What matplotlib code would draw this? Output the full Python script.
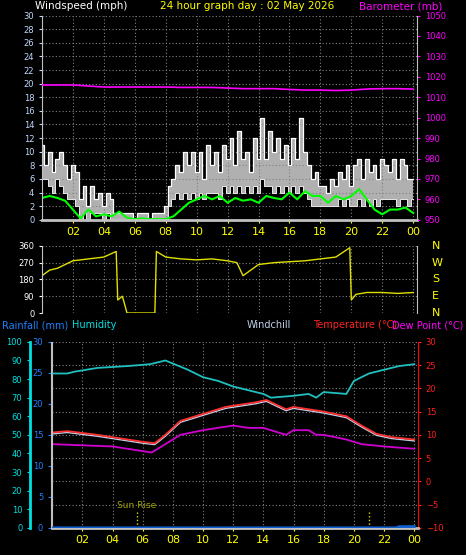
import numpy as np
import matplotlib
matplotlib.use("Agg")
import matplotlib.pyplot as plt

gust_hi = [11,8,10,7,9,10,8,6,8,
           7,3,5,2,5,3,4,2, 4,3,1,1,1,1,1,0, 1,1,1,0,1,1,1,2,
           5,6,8,7,10,8,10,7, 10,6,11,8,10,7,11,9, 12,8,13,9,10,7,12,9,
           15,9,13,10,12,9,11,8, 12,9,15,10,8,6,7,5, 5,4,6,5,7,6,8,5,
           8,9,6,9,7,8,6,9, 8,7,9,6,9,8,6,6]
gust_lo = [6,6,5,4,6,5,4,3,3,
           2,0,1,0,1,1,1,0, 1,0,0,0,0,0,0,0, 0,0,0,0,0,0,0,0,
           2,3,4,3,4,3,4,3, 4,3,4,4,4,3,5,4, 5,4,5,4,5,4,5,4,
           6,5,5,4,5,4,5,4, 5,4,5,4,3,2,2,2, 2,2,2,2,3,2,3,2,
           2,3,2,3,2,3,2,3, 3,3,3,2,3,3,2,3]
wind_avg = [3.2,3.5,3.2,2.8,1.5,0.2,1.5,0.5,0.8,0.5,1.2,0.3,0.1,0.2,0.1,0.1,0.1,0.5,1.5,2.5,3.0,3.5,3.0,3.5,2.5,3.2,2.8,3.0,2.5,3.5,3.2,3.0,4.0,3.0,4.2,3.5,3.5,2.5,3.5,3.0,3.5,4.5,3.0,1.5,0.8,1.5,1.5,1.8,1.0]
baro = [1016,1016,1016,1015.5,1015,1015,1015,1015,1015,1014.8,1014.8,1014.8,1014.5,1014.2,1014.2,1014.2,1013.8,1013.5,1013.5,1013.3,1013.5,1014,1014.2,1014.2,1014]
dir_h = [0,0.5,1,1.5,2,3,4,4.8,4.9,5.2,5.5,7.3,7.4,8,9,10,11,12,12.6,13,14,15,16,17,18,19,19.9,20,20.3,21,22,23,24]
dir_v = [200,230,240,260,280,290,300,330,70,90,0,0,330,300,290,285,290,280,270,200,260,270,275,280,290,300,350,70,100,110,110,105,110]
hum_h = [0,1,1.5,3,5,6.5,7.5,9,10,11,12,13,14,14.5,16,17,17.5,18,19.5,20,21,22,23,24]
hum_v = [83,83,84,86,87,88,90,85,81,79,76,74,72,70,71,72,70,73,72,79,83,85,87,88]
tmp_h = [0,1,3,4,6,6.8,7.5,8.5,9.5,10.5,11.5,12.5,13.5,14.2,15.5,16,17,18,19.5,20.5,21.5,22.5,24]
tmp_v = [10.5,10.8,10,9.5,8.5,8.2,10,13,14,15,16,16.5,17,17.5,15.5,16,15.5,15,14,12,10.2,9.5,9]
dew_h = [0,4,6,6.6,7.5,8.5,10,11,12,13,14,15.5,16,17,17.5,18,19.5,20.5,22,24]
dew_v = [8,7.5,6.5,6.2,8,10,11,11.5,12,11.5,11.5,10,11,11,10,10,9,8,7.5,7]
rain_h = [0,22.8,23,24]
rain_v = [0,0,0.2,0.2]
hours = list(range(2, 25, 2))
hour_labels = ["02","04","06","08","10","12","14","16","18","20","22","00"]

fig = plt.figure(figsize=(4.66, 5.55), dpi=100, facecolor="black")
def style(ax):
    ax.set_facecolor("black")
    for s in ax.spines.values():
        s.set_visible(False)
    ax.grid(True, color="#808080", linestyle=(0, (1, 2)), linewidth=0.8)
    ax.tick_params(labelsize=7, length=2)

# top panel
ax1 = fig.add_axes([0.090, 0.604, 0.805, 0.368])
style(ax1)
th = np.linspace(0, 24, len(gust_hi))
ax1.fill_between(th, gust_lo, gust_hi, color="#b0b0b0", step="mid", lw=0)
ax1.step(th, gust_hi, where="mid", color="white", lw=0.9)
ax1.step(th, gust_lo, where="mid", color="#e8e8e8", lw=0.7)
ax1.plot(np.linspace(0, 24, len(wind_avg)), wind_avg, color="#00ff00", lw=1.5)
ax1.set_xlim(0, 24.25); ax1.set_ylim(0, 30)
ax1.set_yticks(range(0, 31, 2))
ax1.set_xticks(hours); ax1.set_xticklabels(hour_labels)
ax1.tick_params(axis="x", colors="#ffff00", labelsize=8)
ax1.tick_params(axis="y", colors="#c0d8ff", labelsize=6)
ax1.spines["left"].set_visible(True); ax1.spines["left"].set_color("#c0c0c0")
ax1.spines["bottom"].set_visible(True); ax1.spines["bottom"].set_color("#c0c0c0"); ax1.spines["bottom"].set_linewidth(2)
ax1b = ax1.twinx()
for s in ax1b.spines.values(): s.set_visible(False)
ax1b.spines["right"].set_visible(True); ax1b.spines["right"].set_color("#c0c0c0")
ax1b.plot(np.linspace(0, 24, len(baro)), baro, color="#ff00ff", lw=1.2)
ax1b.set_ylim(950, 1050); ax1b.set_yticks(range(950, 1051, 10))
ax1b.tick_params(colors="#ff00ff", labelsize=6, length=2)
fig.text(0.075, 0.998, "Windspeed (mph)", color="white", fontsize=7.5, va="top")
fig.text(0.53, 0.998, "24 hour graph day : 02 May 2026", color="#ffff00", fontsize=7.5, va="top", ha="center")
fig.text(0.95, 0.998, "Barometer (mb)", color="#ff00ff", fontsize=7.5, va="top", ha="right")

# wind direction
ax2 = fig.add_axes([0.090, 0.436, 0.805, 0.121])
style(ax2)
ax2.plot(dir_h, dir_v, color="#e0e000", lw=1)
ax2.set_xlim(0, 24.25); ax2.set_ylim(0, 360)
ax2.set_yticks([0, 90, 180, 270, 360])
ax2.set_xticks(hours); ax2.set_xticklabels([])
ax2.tick_params(axis="y", colors="white", labelsize=6)
ax2.tick_params(axis="x", length=0)
ax2.spines["left"].set_visible(True); ax2.spines["left"].set_color("#c0c0c0")
ax2.spines["right"].set_visible(True); ax2.spines["right"].set_color("#c0c0c0")
for v, l in zip([0, 90, 180, 270, 360], ["N", "E", "S", "W", "N"]):
    ax2.text(1.04, v / 360, l, transform=ax2.transAxes, color="#ffff00", fontsize=8, va="center")

# bottom panel
ax3 = fig.add_axes([0.112, 0.049, 0.785, 0.335])
style(ax3)
ax3.set_xlim(0, 24.25)
ax3.set_ylim(-10, 30)
ax3.set_xticks(hours); ax3.set_xticklabels(hour_labels)
ax3.tick_params(axis="x", colors="#ffff00", labelsize=8)
ax3.set_yticks(range(-10, 31, 5))
ax3.spines["right"].set_visible(True); ax3.spines["right"].set_color("#ff0000")
ax3.spines["left"].set_visible(True); ax3.spines["left"].set_color("#c0c0c0")
ax3.spines["bottom"].set_visible(True); ax3.spines["bottom"].set_color("#c0c0c0"); ax3.spines["bottom"].set_linewidth(2)
ax3.plot(tmp_h, [t - 0.3 for t in tmp_v], color="#c0d0e8", lw=1)
ax3.plot(tmp_h, tmp_v, color="#ff3030", lw=1.3)
ax3.plot(dew_h, dew_v, color="#d000d0", lw=1.3)
ax3.vlines([5.6, 21], -10, -6.5, colors="#e0e000", linestyles=":", lw=1)
ax3.text(5.6, -5.8, "Sun Rise", color="#a0a000", fontsize=6.5, ha="center")

axh = ax3.twinx()
for s in axh.spines.values(): s.set_visible(False)
axh.spines["left"].set_visible(True); axh.spines["left"].set_position(("outward", 16))
axh.spines["left"].set_color("#00e0e0"); axh.spines["left"].set_linewidth(2)
axh.yaxis.tick_left()
axh.plot(hum_h, hum_v, color="#20c0c0", lw=1.3)
axh.set_ylim(0, 100); axh.set_yticks(range(0, 101, 10))
axh.tick_params(colors="#00e0e0", labelsize=6, length=2)

axr = ax3.twinx()
for s in axr.spines.values(): s.set_visible(False)
axr.spines["left"].set_visible(True); axr.spines["left"].set_position(("outward", 1))
axr.spines["left"].set_color("#c0c0c0")
axr.yaxis.tick_left()
axr.plot(rain_h, rain_v, color="#1060d0", lw=2)
axr.set_ylim(0, 30); axr.set_yticks(range(0, 31, 5))
axr.tick_params(colors="#2080ff", labelsize=6, length=2)

ax3.yaxis.tick_right()
ax3.tick_params(axis="y", colors="#ff2020", labelsize=6, right=True, labelright=True, left=False, labelleft=False)

fig.text(0.005, 0.423, "Rainfall (mm)", color="#2080ff", fontsize=7, va="top")
fig.text(0.155, 0.423, "Humidity", color="#00e0e0", fontsize=7, va="top")
fig.text(0.53, 0.423, "Windchill", color="#c0d0e8", fontsize=7, va="top")
fig.text(0.672, 0.423, "Temperature (°C)", color="#ff2020", fontsize=7, va="top")
fig.text(0.842, 0.423, "Dew Point (°C)", color="#ff00ff", fontsize=7, va="top")

fig.savefig("out.png", dpi=100, facecolor="black")
